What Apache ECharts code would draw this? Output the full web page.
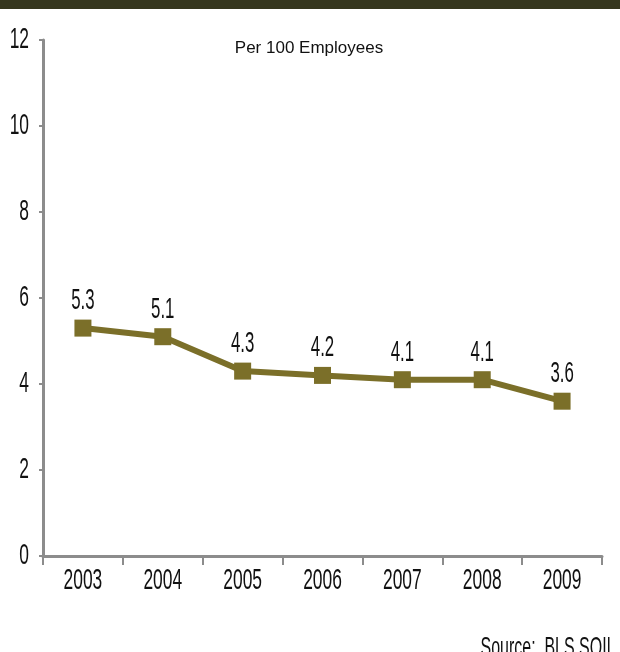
<!DOCTYPE html>
<html>
<head>
<meta charset="utf-8">
<script src="https://cdn.jsdelivr.net/npm/echarts@6/dist/echarts.min.js"></script>
<style>
  html, body { margin: 0; padding: 0; background: #fff; }
  #chart { position: absolute; left: 0; top: 0; width: 620px; height: 652px; }
</style>
</head>
<body>
<div id="chart"></div>
<script>
// Injury and illness rate, per 100 employees
const years = ['2003', '2004', '2005', '2006', '2007', '2008', '2009'];
const rates = [5.3, 5.1, 4.3, 4.2, 4.1, 4.1, 3.6];
const yTicks = [0, 2, 4, 6, 8, 10, 12];

const FONT = '"Liberation Sans", Arial, sans-serif';
const SQUEEZE = 0.58;          // horizontal squeeze giving a narrow face
const axisGray = '#8c8c8c';
const olive = '#7b6f29';
const ink = '#111';

// narrow text element used for tick labels and value labels
function narrowText(x, y, text, size, align, vAlign, squeeze) {
  return {
    type: 'text',
    x: x, y: y,
    scaleX: squeeze,
    style: {
      text: text,
      fontFamily: FONT,
      fontSize: size,
      fill: ink,
      align: align,
      verticalAlign: vAlign
    }
  };
}

const chart = echarts.init(document.getElementById('chart'), null, { renderer: 'canvas' });
chart.setOption({
  animation: false,
  backgroundColor: '#fff',
  grid: { left: 43, right: 18, top: 40, bottom: 96, containLabel: false },
  graphic: [
    { type: 'rect', left: 0, top: 0, shape: { width: 620, height: 9 }, style: { fill: '#35361e' } },
    {
      type: 'text', x: 309, y: 48,
      style: { text: 'Per 100 Employees', fontFamily: FONT, fontSize: 17, fill: ink, align: 'center', verticalAlign: 'middle' }
    },
    {
      type: 'text', x: 611, y: 634, scaleX: 0.57,
      style: { text: 'Source:  BLS SOII', fontFamily: FONT, fontSize: 28, fill: ink, align: 'right', verticalAlign: 'top' }
    }
  ],
  xAxis: {
    type: 'category',
    data: years,
    boundaryGap: true,
    axisLine: { lineStyle: { color: axisGray, width: 3 } },
    axisTick: { show: true, length: 9, lineStyle: { color: axisGray, width: 2 } },
    axisLabel: { show: false },
    splitLine: { show: false }
  },
  yAxis: {
    type: 'value',
    min: yTicks[0],
    max: yTicks[yTicks.length - 1],
    interval: 2,
    axisLine: { show: true, lineStyle: { color: axisGray, width: 3 } },
    axisTick: { show: true, length: 4, lineStyle: { color: axisGray, width: 2 } },
    axisLabel: { show: false },
    splitLine: { show: false }
  },
  series: [
    {
      type: 'line',
      data: rates,
      symbol: 'rect',
      symbolSize: 17,
      itemStyle: { color: olive },
      lineStyle: { color: olive, width: 6 },
      label: { show: false },
      z: 3
    },
    {
      // value labels above each point
      type: 'custom',
      clip: false,
      silent: true,
      data: rates.map((v, i) => [i, v]),
      renderItem: (params, api) => {
        const p = api.coord([api.value(0), api.value(1)]);
        return narrowText(p[0], p[1] - 27, api.value(1).toFixed(1), 29, 'center', 'middle', SQUEEZE);
      },
      z: 4
    },
    {
      // category labels under the x axis
      type: 'custom',
      clip: false,
      silent: true,
      data: years.map((y, i) => [i, 0]),
      renderItem: (params, api) => {
        const p = api.coord([api.value(0), 0]);
        return narrowText(p[0], p[1] + 25, years[params.dataIndex], 30, 'center', 'middle', SQUEEZE);
      }
    },
    {
      // value labels beside the y axis
      type: 'custom',
      clip: false,
      silent: true,
      data: yTicks.map(v => [0, v]),
      renderItem: (params, api) => {
        const p = api.coord([0, api.value(1)]);
        return narrowText(params.coordSys.x - 14, p[1], String(api.value(1)), 30, 'right', 'middle', SQUEEZE);
      }
    }
  ]
});
</script>
</body>
</html>
